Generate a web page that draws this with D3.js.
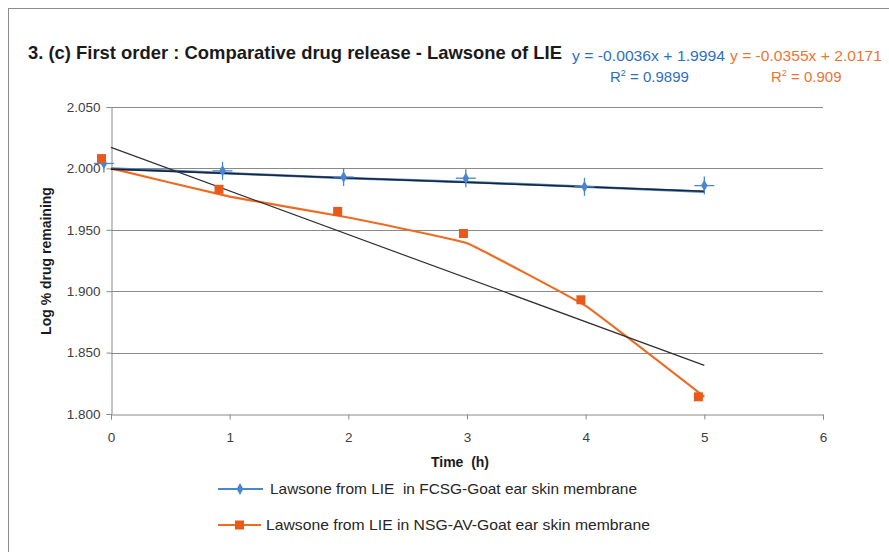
<!DOCTYPE html>
<html>
<head>
<meta charset="utf-8">
<script src="https://cdn.jsdelivr.net/npm/d3@7"></script>
<style>
  body { margin: 0; background: #fff; }
  text { font-family: "Liberation Sans", Arial, sans-serif; white-space: pre; }
</style>
</head>
<body>
<div id="chart"></div>
<script>
// data
var times = [0, 1, 2, 3, 4, 5];
var xTicks = [0, 1, 2, 3, 4, 5, 6];
var yTicks = [1.800, 1.850, 1.900, 1.950, 2.000, 2.050];

// FCSG series (blue)
var fcsgMarkerX = [-0.06, 0.94, 1.96, 2.99, 3.99, 5.0];
var fcsgMarkerY = [2.004, 1.998, 1.993, 1.992, 1.985, 1.986];
var fcsgLine = [2.000, 1.996, 1.992, 1.989, 1.985, 1.981];
var fcsgSlope = -0.0036, fcsgIntercept = 1.9994;

// NSG-AV series (orange)
var nsgMarkerX = [-0.08, 0.91, 1.91, 2.97, 3.96, 4.95];
var nsgMarkerY = [2.008, 1.983, 1.965, 1.947, 1.893, 1.814];
var nsgLine = [2.000, 1.977, 1.960, 1.939, 1.888, 1.814];
var nsgSlope = -0.0355, nsgIntercept = 2.0171;

var seriesNames = ["Lawsone from LIE  in FCSG-Goat ear skin membrane",
                   "Lawsone from LIE in NSG-AV-Goat ear skin membrane"];

var W = 889, H = 552;
var plot = {left: 111, right: 823, top: 107, bottom: 414};
var blue = "#4a85cf", orange = "#ee6b22", orangeMk = "#e85a1b";

var svg = d3.select("#chart").append("svg")
    .attr("width", W).attr("height", H);

svg.append("rect").attr("x", 8.5).attr("y", 8.5)
    .attr("width", W + 20).attr("height", H + 20)
    .attr("fill", "#fff").attr("stroke", "#8c8c8c");

var x = d3.scaleLinear().domain([0, 6]).range([plot.left, plot.right]);
var y = d3.scaleLinear().domain([1.8, 2.05]).range([plot.bottom, plot.top]);

// gridlines
svg.append("g").selectAll("line").data(yTicks.slice(1)).enter().append("line")
    .attr("x1", plot.left).attr("x2", plot.right)
    .attr("y1", function(d) { return Math.round(y(d)) + 0.5; })
    .attr("y2", function(d) { return Math.round(y(d)) + 0.5; })
    .attr("stroke", "#8a8a8a").attr("stroke-width", 1);

// y axis
var yAxis = svg.append("g")
    .attr("transform", "translate(" + (plot.left + 0.5) + ",0)")
    .call(d3.axisLeft(y).tickValues(yTicks).tickFormat(d3.format(".3f")).tickSize(5).tickPadding(6));
// x axis
var xAxis = svg.append("g")
    .attr("transform", "translate(0," + (plot.bottom + 0.5) + ")")
    .call(d3.axisBottom(x).tickValues(xTicks).tickFormat(d3.format("d")).tickSize(5).tickPadding(13));
[yAxis, xAxis].forEach(function(a) {
  a.selectAll("path, line").attr("stroke", "#8a8a8a");
  a.selectAll("text").attr("fill", "#404040").style("font-size", "13.5px");
});

// series lines
var line = d3.line()
    .x(function(d, i) { return x(times[i]); })
    .y(function(d) { return y(d); })
    .curve(d3.curveCardinal.tension(0.75));

svg.append("path").datum(fcsgLine).attr("d", line)
    .attr("fill", "none").attr("stroke", blue).attr("stroke-width", 2.5);
svg.append("path").datum(nsgLine).attr("d", line)
    .attr("fill", "none").attr("stroke", orange).attr("stroke-width", 2.2);

// linear trendlines
function trend(m, b, color, w) {
  svg.append("line")
    .attr("x1", x(0)).attr("y1", y(b))
    .attr("x2", x(5)).attr("y2", y(m * 5 + b))
    .attr("stroke", color).attr("stroke-width", w);
}
trend(fcsgSlope, fcsgIntercept, "#1b2333", 1.6);
trend(nsgSlope, nsgIntercept, "#303030", 1.2);

// markers
function starMarker(g, cx, cy, s) {
  g.append("line").attr("x1", cx - 10 * s).attr("x2", cx + 10 * s).attr("y1", cy).attr("y2", cy)
    .attr("stroke", blue).attr("stroke-width", 1.3);
  g.append("line").attr("x1", cx).attr("x2", cx).attr("y1", cy - 9 * s).attr("y2", cy + 9 * s)
    .attr("stroke", blue).attr("stroke-width", 1.3);
  g.append("path")
    .attr("d", d3.symbol().type(d3.symbolDiamond).size(38 * s * s)())
    .attr("transform", "translate(" + cx + "," + cy + ")")
    .attr("fill", blue);
}
var mk = svg.append("g");
fcsgMarkerX.forEach(function(t, i) { starMarker(mk, x(t), y(fcsgMarkerY[i]), 1); });
nsgMarkerX.forEach(function(t, i) {
  mk.append("rect")
    .attr("x", x(t) - 4.5).attr("y", y(nsgMarkerY[i]) - 4.5)
    .attr("width", 9).attr("height", 9).attr("fill", orangeMk);
});

// title and equations
svg.append("text").attr("x", 28).attr("y", 59)
    .attr("textLength", 534).attr("lengthAdjust", "spacingAndGlyphs")
    .style("font-size", "19px").style("font-weight", "bold").attr("fill", "#1a1a1a")
    .text("3. (c) First order : Comparative drug release - Lawsone of LIE");

function eqLabel(x0, len, baseline, txt, color) {
  svg.append("text").attr("x", x0).attr("y", baseline)
    .attr("textLength", len).attr("lengthAdjust", "spacingAndGlyphs")
    .style("font-size", "15px").attr("fill", color).text(txt);
}
function r2Label(x0, len, val, color) {
  var t = svg.append("text").attr("x", x0).attr("y", 82)
    .style("font-size", "15px").attr("fill", color);
  t.append("tspan").text("R");
  t.append("tspan").attr("dy", -6).style("font-size", "9px").text("2");
  t.append("tspan").attr("dy", 6).text(" = " + val);
}
eqLabel(572, 153, 61, "y = " + fcsgSlope.toFixed(4) + "x + " + fcsgIntercept.toFixed(4), "#2e6fc0");
eqLabel(730, 152, 61, "y = " + nsgSlope.toFixed(4) + "x + " + nsgIntercept.toFixed(4), "#ec7434");
r2Label(610, 80, "0.9899", "#2e6fc0");
r2Label(771, 71, "0.909", "#ec7434");

// axis titles
svg.append("text").attr("x", 460).attr("y", 467).attr("text-anchor", "middle")
    .style("font-size", "14px").style("font-weight", "bold").attr("fill", "#1a1a1a")
    .text("Time  (h)");
svg.append("text").attr("transform", "translate(51,261) rotate(-90)")
    .attr("text-anchor", "middle")
    .style("font-size", "14px").style("font-weight", "bold").attr("fill", "#1a1a1a")
    .text("Log % drug remaining");

// legend
var lg = svg.append("g");
lg.append("line").attr("x1", 218).attr("x2", 263).attr("y1", 489).attr("y2", 489)
    .attr("stroke", blue).attr("stroke-width", 2.2);
lg.append("path").attr("d", d3.symbol().type(d3.symbolDiamond).size(40)())
    .attr("transform", "translate(240,489)").attr("fill", blue);
lg.append("text").attr("x", 270).attr("y", 494)
    .attr("textLength", 367).attr("lengthAdjust", "spacingAndGlyphs")
    .style("font-size", "15px").attr("fill", "#262626").text(seriesNames[0]);
lg.append("line").attr("x1", 218).attr("x2", 261).attr("y1", 525).attr("y2", 525)
    .attr("stroke", orange).attr("stroke-width", 2.2);
lg.append("rect").attr("x", 235).attr("y", 520.5).attr("width", 9).attr("height", 9)
    .attr("fill", orangeMk);
lg.append("text").attr("x", 266).attr("y", 530)
    .attr("textLength", 384).attr("lengthAdjust", "spacingAndGlyphs")
    .style("font-size", "15px").attr("fill", "#262626").text(seriesNames[1]);
</script>
</body>
</html>
